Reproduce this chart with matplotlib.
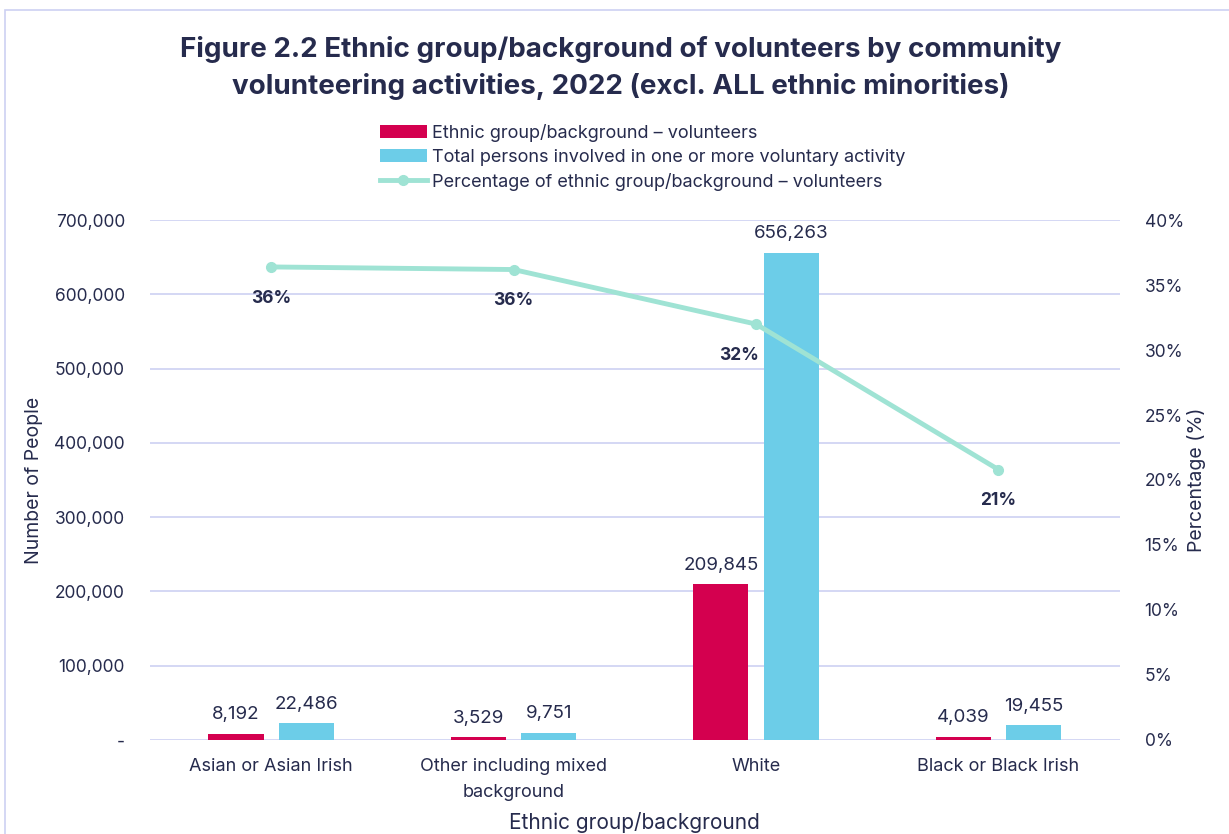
import matplotlib.pyplot as plt
import numpy as np
from matplotlib.patches import Rectangle

categories = ["Asian or Asian Irish", "Other including mixed\nbackground", "White", "Black or Black Irish"]
volunteers = [8192, 3529, 209845, 4039]
total_persons = [22486, 9751, 656263, 19455]
pct_volunteers = [36.4, 36.2, 32.0, 20.8]
pct_labels = ["36%", "36%", "32%", "21%"]

RED = "#d4004f"
BLUE = "#6ccde8"
MINT = "#9fe3d4"
NAVY = "#262b4d"
GRID = "#cdd1f2"

plt.rcParams['font.family'] = ['Inter', 'DejaVu Sans']

fig = plt.figure(figsize=(12.29, 8.34), dpi=100)
ax = fig.add_axes([0.122, 0.113, 0.789, 0.623])
ax2 = ax.twinx()

x = np.arange(len(categories))
w = 0.227
off = 0.145
b1 = ax.bar(x - off, volunteers, w, color=RED, label="Ethnic group/background – volunteers", zorder=3)
b2 = ax.bar(x + off, total_persons, w, color=BLUE, label="Total persons involved in one or more voluntary activity", zorder=3)
for bars, vals in ((b1, volunteers), (b2, total_persons)):
    for bar, v in zip(bars, vals):
        ax.text(bar.get_x() + bar.get_width() / 2, v + 14000, f"{v:,}",
                ha="center", va="bottom", fontsize=13.5, color=NAVY)

ax.set_xlim(-0.5, 3.5)
ax.set_ylim(0, 700000)
ax.set_yticks(np.arange(0, 700001, 100000))
ax.set_yticklabels(["-"] + [f"{v:,}" for v in range(100000, 700001, 100000)])
ax.grid(axis="y", color=GRID, linewidth=1.2, zorder=0)
ax.set_axisbelow(True)
ax.set_xticks(x)
ax.set_xticklabels(categories, linespacing=1.7)
ax.tick_params(axis="x", length=0, labelsize=13, colors=NAVY, pad=13)
ax.tick_params(axis="y", length=0, labelsize=12.5, colors=NAVY, pad=18)
for s in ax.spines.values():
    s.set_visible(False)
for s in ax2.spines.values():
    s.set_visible(False)
ax.set_ylabel("Number of People", fontsize=14, color=NAVY, labelpad=8)
ax.set_xlabel("Ethnic group/background", fontsize=15, color=NAVY, labelpad=8)

ln, = ax2.plot(x, pct_volunteers, color=MINT, linewidth=3.5, marker="o", markersize=7,
               label="Percentage of ethnic group/background – volunteers", zorder=4)
ax2.set_ylim(0, 40)
ax2.set_yticks(np.arange(0, 41, 5))
ax2.set_yticklabels([f"{v}%" for v in range(0, 41, 5)])
ax2.tick_params(axis="y", length=0, labelsize=12.5, colors=NAVY, pad=18)
ax2.set_ylabel("Percentage (%)", fontsize=14, color=NAVY, labelpad=2)

label_dx = [0, 0, -0.07, 0]
for xi, yi, lab, dx in zip(x, pct_volunteers, pct_labels, label_dx):
    ax2.text(xi + dx, yi - 2.4, lab, ha="center", va="center", fontsize=12.5,
             fontweight="bold", color=NAVY)

fig.legend(handles=[b1, b2, ln], loc="upper center", bbox_to_anchor=(0.523, 0.86),
           frameon=False, fontsize=13, labelcolor=NAVY, handlelength=2.6,
           handletextpad=0.3, labelspacing=0.38, borderaxespad=0)

fig.suptitle("Figure 2.2 Ethnic group/background of volunteers by community\n"
             "volunteering activities, 2022 (excl. ALL ethnic minorities)",
             x=0.505, y=0.957, fontsize=20, fontweight="bold", color=NAVY, linespacing=1.5)

fig.patches.append(Rectangle((0.004, -0.01), 1.0, 0.998, transform=fig.transFigure,
                             fill=False, edgecolor=GRID, linewidth=1.2))

fig.savefig("out.png", dpi=100)
